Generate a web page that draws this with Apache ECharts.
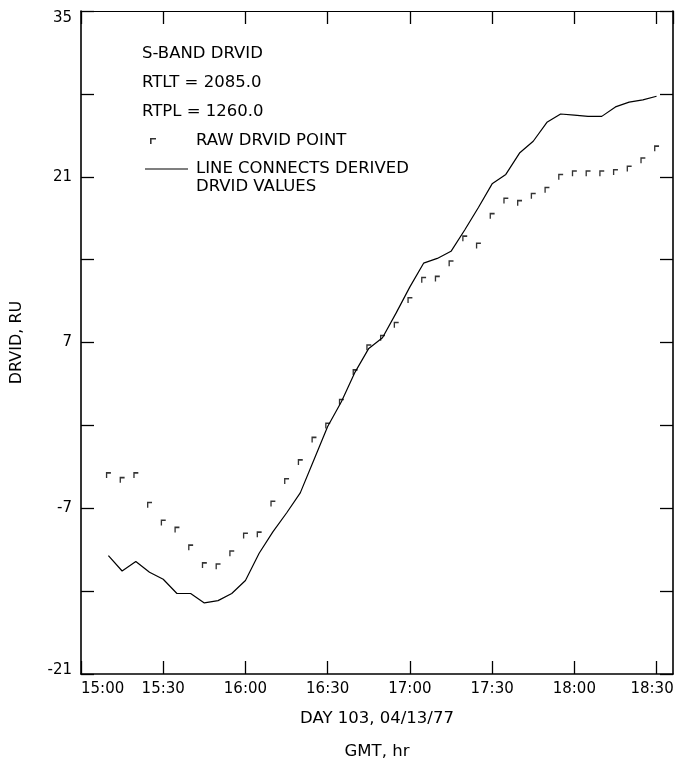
<!DOCTYPE html>
<html>
<head>
<meta charset="utf-8">
<script src="https://cdn.jsdelivr.net/npm/echarts@6/dist/echarts.min.js"></script>
<style>
html,body{margin:0;padding:0;background:#fff;}
#chart{width:677px;height:766px;}
</style>
</head>
<body>
<div id="chart"></div>
<script>
// minutes after 15:00 GMT
const minutes = [10,15,20,25,30,35,40,45,50,55,60,65,70,75,80,85,90,95,100,105,110,115,120,125,130,135,140,145,150,155,160,165,170,175,180,185,190,195,200,205,210];
const rawDrvid = [-4.2,-4.6,-4.2,-6.7,-8.2,-8.8,-10.3,-11.8,-11.9,-10.8,-9.3,-9.2,-6.6,-4.7,-3.1,-1.2,0.0,2.0,4.5,6.6,7.4,8.5,10.6,12.3,12.4,13.7,15.8,15.2,17.7,19.0,18.8,19.4,19.9,21.0,21.3,21.3,21.3,21.4,21.7,22.4,23.4];
const derivedDrvid = [-11.0,-12.3,-11.5,-12.4,-13.0,-14.2,-14.2,-15.0,-14.8,-14.2,-13.1,-10.8,-9.0,-7.4,-5.7,-2.9,-0.1,2.0,4.5,6.5,7.4,9.5,11.7,13.7,14.1,14.7,16.5,18.4,20.4,21.2,23.0,24.0,25.6,26.3,26.2,26.1,26.1,26.9,27.3,27.5,27.8];
const xTickLabels = ['15:00','15:30','16:00','16:30','17:00','17:30','18:00','18:30'];
const yLabelledTicks = [-21,-7,7,21,35];
const headerLines = ['S-BAND DRVID','RTLT = 2085.0','RTPL = 1260.0'];
const rawName = 'RAW DRVID POINT';
const lineName = 'LINE CONNECTS DERIVED';
const lineName2 = 'DRVID VALUES';
const xName = 'DAY 103, 04/13/77';
const xName2 = 'GMT, hr';
const yName = 'DRVID, RU';

const FONT = 'DejaVu Sans';
const rawSymbol = 'path://M0,0H6V1.6H1.6V6H0Z';
const lineIcon = 'path://M0,0H43V1.2H0Z';

const chart = echarts.init(document.getElementById('chart'), null, {renderer:'canvas'});

const axisLineStyle = {color:'#000', width:1.6};
const tickStyle = {show:true, inside:true, length:13, lineStyle:{color:'#000', width:1.3}};

const option = {
  animation:false,
  backgroundColor:'#fff',
  textStyle:{fontFamily:FONT, color:'#000'},
  title:{
    text: headerLines.join('\n'),
    left:142, top:39, padding:0,
    textStyle:{fontFamily:FONT, fontSize:16.5, fontWeight:'normal', color:'#000', lineHeight:29}
  },
  legend:[
    {
      data:[{name:rawName, icon:rawSymbol}],
      orient:'vertical', left:150, top:131, padding:0,
      itemWidth:6, itemHeight:6,
      selectedMode:false,
      textStyle:{fontFamily:FONT, fontSize:16.5, color:'#000', lineHeight:20, padding:[0,0,0,35]}
    },
    {
      data:[{name:lineName, icon:lineIcon}],
      orient:'vertical', left:145, top:142, padding:0,
      itemWidth:43, itemHeight:10,
      selectedMode:false,
      formatter: function(n){ return ' \n' + n + '\n' + lineName2; },
      textStyle:{fontFamily:FONT, fontSize:16.5, color:'#000', lineHeight:18, padding:[0,0,0,3]}
    }
  ],
  grid:{left:81, right:4, top:11, bottom:92, containLabel:false, outerBoundsMode:'none'},
  xAxis:[
    {
      type:'value', min:0, max:216, interval:30, position:'bottom',
      axisLine:{show:true, onZero:false, lineStyle:axisLineStyle},
      axisTick:tickStyle,
      splitLine:{show:false},
      axisLabel:{
        show:true, margin:8, color:'#000', fontFamily:FONT, fontSize:15,
        showMaxLabel:false,
        alignMinLabel:'left',
        formatter:function(v){
          const i = Math.round(v/30);
          if (i === xTickLabels.length-1) return '{last|' + xTickLabels[i] + '}';
          return xTickLabels[i] || '';
        },
        rich:{last:{fontFamily:FONT, fontSize:15, color:'#000', padding:[0,9,0,0]}}
      },
      name: xName + '\n' + xName2,
      nameLocation:'middle', nameGap:27,
      nameTextStyle:{fontFamily:FONT, fontSize:16.5, color:'#000', lineHeight:33, verticalAlign:'top'}
    },
    {
      type:'value', min:0, max:216, interval:30, position:'top',
      axisLine:{show:true, onZero:false, lineStyle:{color:'#000', width:1.2}},
      axisTick:tickStyle,
      axisLabel:{show:false},
      splitLine:{show:false}
    }
  ],
  yAxis:[
    {
      type:'value', min:-21, max:35, interval:7, position:'left',
      axisLine:{show:true, onZero:false, lineStyle:axisLineStyle},
      axisTick:tickStyle,
      splitLine:{show:false},
      axisLabel:{
        show:true, margin:9, color:'#000', fontFamily:FONT, fontSize:15,
        verticalAlignMaxLabel:'top',
        formatter:function(v){
          if (yLabelledTicks.indexOf(v) < 0) return '';
          if (v === yLabelledTicks[0]) return '{lo|' + v + '}';
          return String(v);
        },
        rich:{lo:{fontFamily:FONT, fontSize:15, color:'#000', padding:[0,0,8,0]}}
      },
      name: yName,
      nameLocation:'middle', nameGap:56, nameRotate:90,
      nameTextStyle:{fontFamily:FONT, fontSize:16, color:'#000'}
    },
    {
      type:'value', min:-21, max:35, interval:7, position:'right',
      axisLine:{show:true, onZero:false, lineStyle:axisLineStyle},
      axisTick:tickStyle,
      axisLabel:{show:false},
      splitLine:{show:false}
    }
  ],
  series:[
    {
      name: rawName,
      type:'scatter',
      xAxisIndex:0, yAxisIndex:0,
      symbol: rawSymbol,
      symbolSize:[5,6],
      itemStyle:{color:'#000'},
      data: minutes.map((m,i)=>[m, rawDrvid[i]]),
      z:3
    },
    {
      name: lineName,
      type:'line',
      xAxisIndex:0, yAxisIndex:0,
      showSymbol:false, symbol:'none',
      lineStyle:{color:'#000', width:1.2},
      itemStyle:{color:'#000'},
      data: minutes.map((m,i)=>[m, derivedDrvid[i]]),
      z:4
    }
  ]
};
chart.setOption(option);
</script>
</body>
</html>
